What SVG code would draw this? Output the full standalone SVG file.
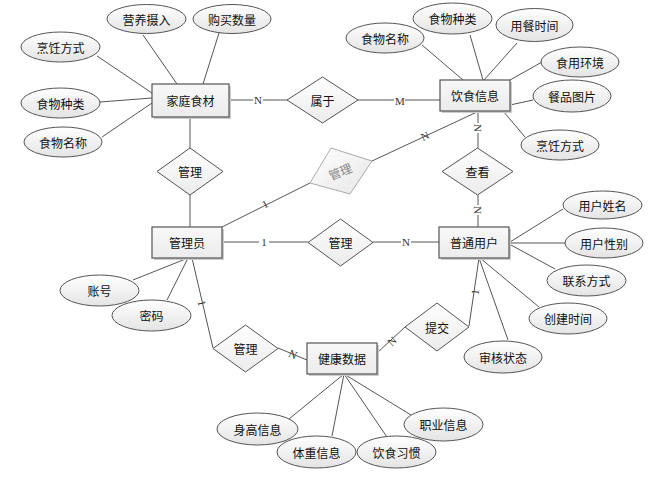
<svg xmlns="http://www.w3.org/2000/svg" width="660" height="482" viewBox="0 0 660 482">
<defs>
<linearGradient id="gE" x1="0" y1="0" x2="0" y2="1"><stop offset="0" stop-color="#ffffff"/><stop offset="1" stop-color="#e4e4e4"/></linearGradient>
<linearGradient id="gR" x1="0" y1="0" x2="0" y2="1"><stop offset="0" stop-color="#f8f8f8"/><stop offset="1" stop-color="#ececec"/></linearGradient>
<linearGradient id="gD" x1="0" y1="0" x2="0" y2="1"><stop offset="0" stop-color="#ffffff"/><stop offset="1" stop-color="#ebebeb"/></linearGradient>
<linearGradient id="gG" x1="0" y1="0" x2="1" y2="1"><stop offset="0" stop-color="#ffffff"/><stop offset="1" stop-color="#e6e6e6"/></linearGradient>
</defs>
<style>
text{font-family:"Noto Sans CJK SC","Noto Sans",sans-serif;font-size:12px;fill:#111;text-anchor:middle;dominant-baseline:central}
.e{fill:url(#gE);stroke:#555;stroke-width:1}
.r{fill:url(#gR);stroke:#555;stroke-width:1.2}
.sh{fill:#ccc}
.d{fill:url(#gD);stroke:#555;stroke-width:1}
.c line,.c polyline{stroke:#555;stroke-width:1;fill:none}
.lb{fill:#fff;stroke:none}
.cl{font-family:"Liberation Serif",serif;font-size:11px;fill:#333}
</style>
<rect width="660" height="482" fill="#fff"/>
<g class="c" id="connectors">
<line x1="143" y1="35" x2="177" y2="84"/>
<line x1="219" y1="33" x2="203" y2="84"/>
<line x1="97" y1="56" x2="152" y2="93"/>
<line x1="100" y1="102" x2="152" y2="98"/>
<line x1="102" y1="137" x2="152" y2="103"/>
<line x1="229" y1="100" x2="287" y2="100"/>
<line x1="358" y1="100" x2="440" y2="100"/>
<line x1="422" y1="45" x2="463" y2="80"/>
<line x1="470" y1="35" x2="483" y2="80"/>
<line x1="517" y1="43" x2="484" y2="80"/>
<line x1="542" y1="62" x2="510" y2="80"/>
<line x1="533" y1="100" x2="510" y2="105"/>
<line x1="525" y1="137" x2="503" y2="111"/>
<line x1="478" y1="111" x2="478" y2="148"/>
<line x1="478" y1="195" x2="478" y2="227"/>
<line x1="477" y1="112" x2="372" y2="161"/>
<line x1="310" y1="183" x2="222" y2="227"/>
<line x1="190" y1="117" x2="190" y2="148"/>
<line x1="190" y1="195" x2="190" y2="227"/>
<line x1="222" y1="242" x2="308" y2="242"/>
<line x1="373" y1="242" x2="439" y2="242"/>
<line x1="133" y1="280" x2="188" y2="258"/>
<line x1="167" y1="300" x2="188" y2="258"/>
<line x1="192" y1="258" x2="213" y2="348"/>
<line x1="278" y1="348" x2="307" y2="360"/>
<line x1="377" y1="353" x2="405" y2="327"/>
<line x1="469" y1="326" x2="479" y2="258"/>
<line x1="563" y1="209" x2="510" y2="242"/>
<line x1="565" y1="243" x2="509" y2="243"/>
<line x1="555" y1="269" x2="511" y2="245"/>
<line x1="539" y1="307" x2="480" y2="258"/>
<line x1="508" y1="340" x2="479" y2="258"/>
<line x1="289" y1="419" x2="344" y2="374"/>
<line x1="332" y1="436" x2="344" y2="374"/>
<line x1="387" y1="437" x2="344" y2="374"/>
<line x1="411" y1="415" x2="344" y2="374"/>
<rect class="lb" x="253" y="94" width="10" height="12"/>
<text class="cl" x="258" y="100">N</text>
<rect class="lb" x="394" y="95" width="11" height="12"/>
<text class="cl" x="400" y="101">M</text>
<rect class="lb" x="472" y="123" width="12" height="10"/>
<text class="cl" x="478" y="128" transform="rotate(90 478 128)">N</text>
<rect class="lb" x="472" y="205" width="12" height="10"/>
<text class="cl" x="478" y="210" transform="rotate(90 478 210)">N</text>
<text class="cl" x="425" y="136" transform="rotate(-25 425 136)">N</text>
<text class="cl" x="265" y="204" transform="rotate(-27 265 204)">1</text>
<rect class="lb" x="259" y="236" width="10" height="12"/>
<text class="cl" x="264" y="242">1</text>
<rect class="lb" x="401" y="236" width="10" height="12"/>
<text class="cl" x="406" y="242">N</text>
<text class="cl" x="202" y="303" transform="rotate(77 202 303)">1</text>
<text class="cl" x="293" y="354" transform="rotate(23 293 354)">N</text>
<text class="cl" x="392" y="341" transform="rotate(-43 392 341)">N</text>
<text class="cl" x="475" y="292" transform="rotate(-82 475 292)">1</text>
</g>
<g id="ent-jiating"><rect class="sh" x="154" y="86" width="77" height="33"/><rect class="r" x="152" y="84" width="77" height="33"/><text x="190.5" y="100.5">家庭食材</text></g>
<g id="ent-yinshi"><rect class="sh" x="442" y="82" width="70" height="31"/><rect class="r" x="440" y="80" width="70" height="31"/><text x="475" y="95.5">饮食信息</text></g>
<g id="ent-admin"><rect class="sh" x="154" y="229" width="70" height="31"/><rect class="r" x="152" y="227" width="70" height="31"/><text x="187" y="242.5">管理员</text></g>
<g id="ent-user"><rect class="sh" x="441" y="229" width="70" height="31"/><rect class="r" x="439" y="227" width="70" height="31"/><text x="474" y="242.5">普通用户</text></g>
<g id="ent-health"><rect class="sh" x="309" y="345" width="70" height="31"/><rect class="r" x="307" y="343" width="70" height="31"/><text x="342" y="358.5">健康数据</text></g>
<g id="rel-shuyu"><polygon class="d" points="287,100 322.5,77 358,100 322.5,123"/><text x="322.5" y="100">属于</text></g>
<g id="rel-guanli1"><polygon class="d" points="157,171.5 190,148 223,171.5 190,195"/><text x="190" y="171.5">管理</text></g>
<g id="rel-guanli-gray"><polygon points="310,183 331,148 372,161 350,194" fill="url(#gG)" stroke="#aaa" stroke-width="1"/><text x="340" y="171" transform="rotate(-22 340 171)" style="fill:#888">管理</text></g>
<g id="rel-chakan"><polygon class="d" points="442,171.5 477.5,148 513,171.5 477.5,195"/><text x="477.5" y="171.5">查看</text></g>
<g id="rel-guanli2"><polygon class="d" points="308,242.5 340.5,219 373,242.5 340.5,266"/><text x="340.5" y="242.5">管理</text></g>
<g id="rel-guanli3"><polygon class="d" points="213,348.5 245.5,325 278,348.5 245.5,372"/><text x="245.5" y="348.5">管理</text></g>
<g id="rel-tijiao"><polygon class="d" points="405,327 437,303 469,327 437,351"/><text x="437" y="327">提交</text></g>
<g id="a-yingyang"><ellipse class="e" cx="146.5" cy="19" rx="39.5" ry="14.5"/><text x="146.5" y="19">营养摄入</text></g>
<g id="a-goumai"><ellipse class="e" cx="232" cy="19" rx="39" ry="14.5"/><text x="232" y="19">购买数量</text></g>
<g id="a-pengren1"><ellipse class="e" cx="60.5" cy="47" rx="39.5" ry="15"/><text x="60.5" y="47">烹饪方式</text></g>
<g id="a-zhonglei1"><ellipse class="e" cx="60.5" cy="103" rx="39.5" ry="15"/><text x="60.5" y="103">食物种类</text></g>
<g id="a-mingcheng1"><ellipse class="e" cx="63" cy="142" rx="39" ry="15"/><text x="63" y="142">食物名称</text></g>
<g id="a-mingcheng2"><ellipse class="e" cx="385" cy="38" rx="39" ry="15"/><text x="385" y="38">食物名称</text></g>
<g id="a-zhonglei2"><ellipse class="e" cx="452.5" cy="18.5" rx="39.5" ry="15.5"/><text x="452.5" y="18.5">食物种类</text></g>
<g id="a-yongcan"><ellipse class="e" cx="534.5" cy="25" rx="38.5" ry="16.5"/><text x="534.5" y="25">用餐时间</text></g>
<g id="a-huanjing"><ellipse class="e" cx="580" cy="62" rx="39" ry="15"/><text x="580" y="62">食用环境</text></g>
<g id="a-tupian"><ellipse class="e" cx="572" cy="96" rx="39" ry="16"/><text x="572" y="96">餐品图片</text></g>
<g id="a-pengren2"><ellipse class="e" cx="560" cy="145" rx="39" ry="15"/><text x="560" y="145">烹饪方式</text></g>
<g id="a-zhanghao"><ellipse class="e" cx="99.5" cy="290.5" rx="39.5" ry="15.5"/><text x="99.5" y="290.5">账号</text></g>
<g id="a-mima"><ellipse class="e" cx="151.5" cy="315.5" rx="39.5" ry="15.5"/><text x="151.5" y="315.5">密码</text></g>
<g id="a-xingming"><ellipse class="e" cx="602.5" cy="205" rx="39.5" ry="14"/><text x="602.5" y="205">用户姓名</text></g>
<g id="a-xingbie"><ellipse class="e" cx="604" cy="243" rx="39" ry="15"/><text x="604" y="243">用户性别</text></g>
<g id="a-lianxi"><ellipse class="e" cx="586.5" cy="280.5" rx="39.5" ry="15.5"/><text x="586.5" y="280.5">联系方式</text></g>
<g id="a-chuangjian"><ellipse class="e" cx="568" cy="318.5" rx="39" ry="15.5"/><text x="568" y="318.5">创建时间</text></g>
<g id="a-shenhe"><ellipse class="e" cx="503" cy="357" rx="39" ry="16"/><text x="503" y="357">审核状态</text></g>
<g id="a-shengao"><ellipse class="e" cx="257.5" cy="429" rx="40.5" ry="16"/><text x="257.5" y="429">身高信息</text></g>
<g id="a-tizhong"><ellipse class="e" cx="316.5" cy="452" rx="39.5" ry="16"/><text x="316.5" y="452">体重信息</text></g>
<g id="a-yinshi"><ellipse class="e" cx="396.5" cy="452" rx="39.5" ry="16"/><text x="396.5" y="452">饮食习惯</text></g>
<g id="a-zhiye"><ellipse class="e" cx="443.5" cy="424.5" rx="39.5" ry="16.5"/><text x="443.5" y="424.5">职业信息</text></g>
</svg>
